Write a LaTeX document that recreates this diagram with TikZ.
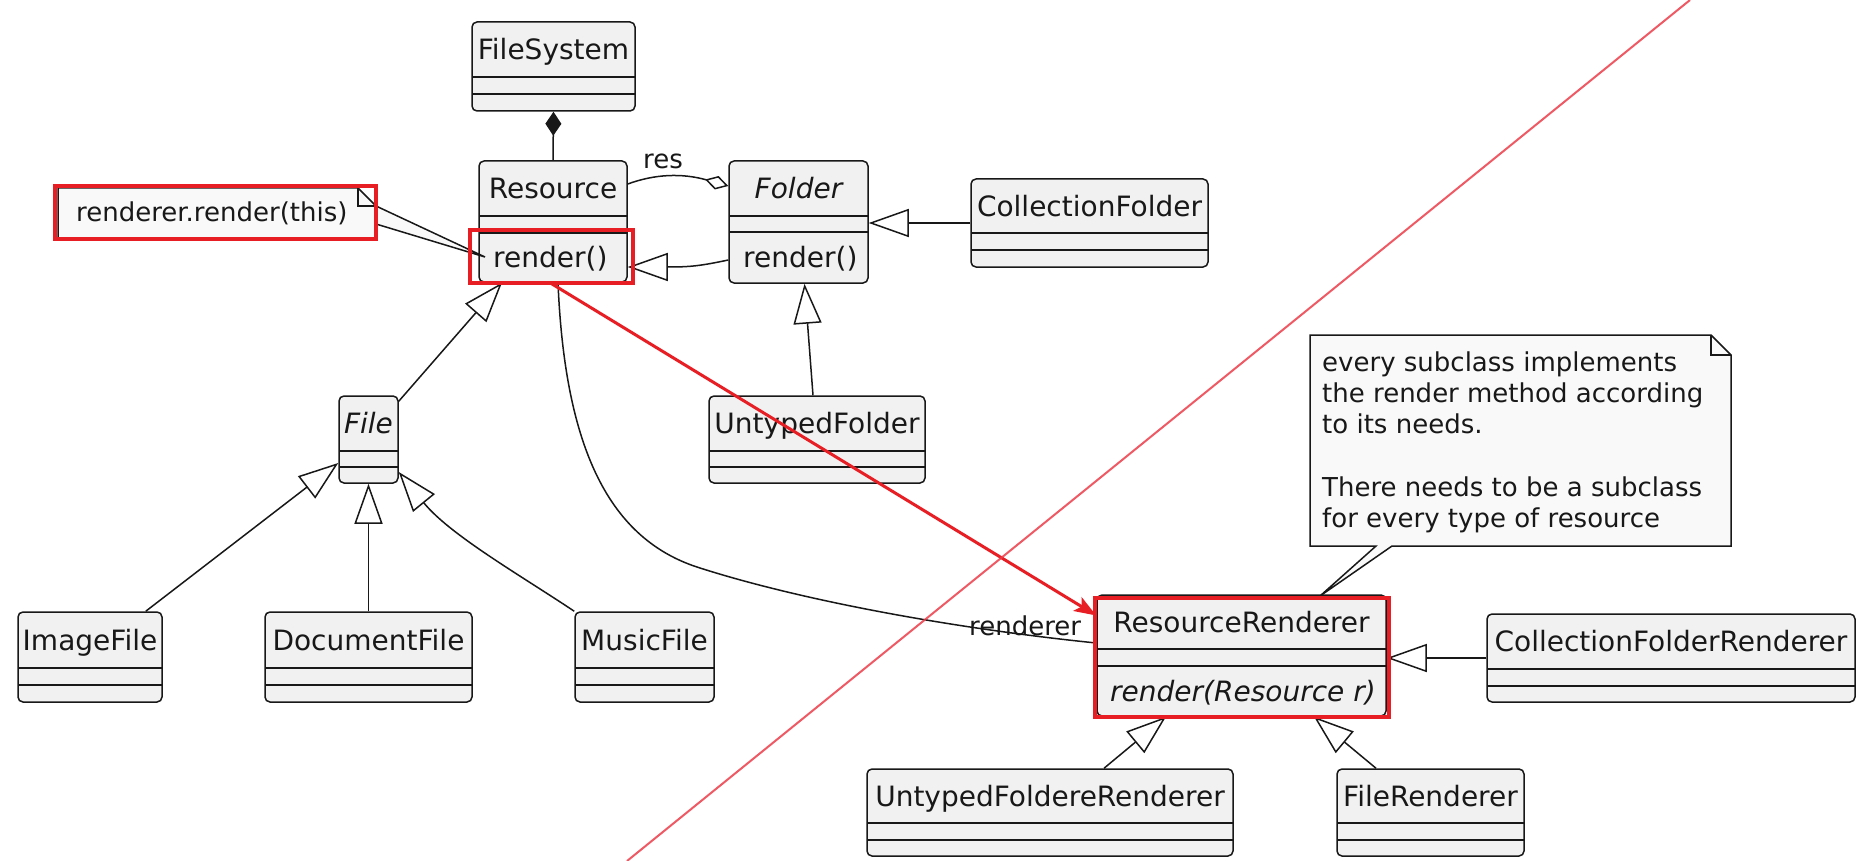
\documentclass[tikz,border=0pt]{standalone}
\usepackage{fontspec}
\setmainfont{DejaVu Sans}
\usetikzlibrary{arrows.meta,fit}
\definecolor{boxfill}{HTML}{F1F1F1}
\definecolor{boxline}{HTML}{181818}
\definecolor{notefill}{HTML}{F9F9F9}
\definecolor{hl}{RGB}{232,30,37}
\definecolor{diag}{RGB}{236,60,72}
\tikzset{
  cls/.style={draw=boxline, fill=boxfill, line width=1.5pt, rounded corners=5pt, inner sep=0pt},
  divline/.style={draw=boxline, line width=1.5pt},
  ttl/.style={anchor=base, font=\fontsize{28}{34}\selectfont, inner sep=0pt, text=boxline},
  mth/.style={anchor=base west, font=\fontsize{28}{34}\selectfont, inner sep=0pt, text=boxline},
  lbl/.style={anchor=base west, font=\fontsize{26}{31}\selectfont, inner sep=0pt, text=boxline},
  conn/.style={draw=boxline, line width=1.5pt},
  gen/.style={conn, -{Triangle[length=40pt, width=28pt, fill=white]}},
  notebox/.style={draw=boxline, fill=notefill, line width=1.5pt, line join=miter},
  hlbox/.style={draw=hl, line width=3.5pt, inner sep=0pt},
  diagline/.style={draw=diag, line width=2pt, opacity=0.85},
}
\newcommand\umlcls[8]{%
  \node[cls, fit={(#2,#3) (#4,#5)}] (#1) {};
  \draw[divline] (#2,#6) -- (#4,#6) (#2,#7) -- (#4,#7);
  \node[ttl] (#1-t) at ({(#2+#4)/2},{(#3+#6)/2+10}) {#8};
}
\begin{document}
\begin{tikzpicture}[x=1pt,y=-1pt]
\fill[white] (0,0) rectangle (1867,861);
\useasboundingbox (0,0) rectangle (1867,861);

% classes
\umlcls{fs}{472}{22}{635}{111}{77}{94}{FileSystem}
\umlcls{res}{479}{161}{627}{282}{216}{233}{Resource}
\node[mth] (res-m) at (493,267) {render()};
\umlcls{fold}{729}{161}{868}{283}{216}{232}{\itshape Folder}
\node[mth] (fold-m) at (743,267) {render()};
\umlcls{cf}{971}{179}{1208}{267}{233}{250}{CollectionFolder}
\umlcls{file}{339}{396}{398}{483}{451}{467}{\itshape File}
\umlcls{uf}{709}{396}{925}{483}{451}{467}{UntypedFolder}
\umlcls{img}{18}{612}{162}{702}{668}{685}{ImageFile}
\umlcls{doc}{265}{612}{472}{702}{668}{685}{DocumentFile}
\umlcls{mus}{575}{612}{714}{702}{668}{685}{MusicFile}
\umlcls{rr}{1097}{595}{1386}{716}{649}{666}{ResourceRenderer}
\node[mth] (rr-m) at (1110,701) {\itshape render(Resource r)};
\umlcls{cfr}{1487}{614}{1855}{702}{669}{686}{CollectionFolderRenderer}
\umlcls{ufr}{867}{769}{1233}{856}{823}{840}{UntypedFoldereRenderer}
\umlcls{fr}{1337}{769}{1524}{856}{823}{840}{FileRenderer}

% notes
\filldraw[notebox] (58,188) -- (358,188) -- (376,206) -- (485,257) -- (376,224) -- (376,238) -- (58,238) -- cycle;
\draw[notebox, fill=none] (358,188) -- (358,206) -- (376,206);
\node[lbl] (n1) at (76,222) {renderer.render(this)};

\filldraw[notebox] (1310,335) -- (1711,335) -- (1731,355) -- (1731,546) -- (1392,546) -- (1320,596) -- (1376,546) -- (1310,546) -- cycle;
\draw[notebox, fill=none] (1711,335) -- (1711,355) -- (1731,355);
\node[lbl] (n2a) at (1322,371) {every subclass implements};
\node[lbl] (n2b) at (1322,402) {the render method according};
\node[lbl] (n2c) at (1322,433) {to its needs.};
\node[lbl] (n2d) at (1322,496) {There needs to be a subclass};
\node[lbl] (n2e) at (1322,527) {for every type of resource};

% connectors
\draw[conn, {Diamond[length=24pt, width=16pt, fill=boxline]}-] (fs.south) -- (res.north);
\draw[conn, -{Diamond[length=24pt, width=14pt, fill=white]}] ([yshift=37.5pt]res.east) .. controls (655,174) and (682,173) .. ([yshift=36pt]fold.west);
\node[lbl] (reslbl) at (643,168) {res};
\draw[gen] ([yshift=-38pt]fold.west) .. controls (700,266) and (690,267) .. ([yshift=-45.5pt]res.east);
\draw[gen] (cf.west) -- (cf.west -| fold.east);
\draw[gen] ([xshift=-4pt]uf.north) -- ([xshift=6pt]fold.south);
\draw[gen] ([yshift=-6pt]file.north east) -- ([xshift=-51pt]res.south);
\draw[gen] ([xshift=-17pt]img.north east) -- ([yshift=-23.5pt]file.west);
\draw[gen] (doc.north) -- (file.south);
\draw[gen] (mus.north west) .. controls (520,575) and (450,535) .. ([yshift=-32.5pt]file.east);
\draw[conn] ([xshift=5pt]res.south) .. controls (565,450) and (610,540) .. (700,568) .. controls (800,600) and (950,628) .. ([yshift=12.5pt]rr.west);
\node[lbl] (rrlbl) at (969,635) {renderer};
\draw[gen] (cfr.west) -- (cfr.west -| rr.east);
\draw[gen] ([xshift=54pt]ufr.north) -- ([xshift=-75.5pt]rr.south);
\draw[gen] ([xshift=-54.5pt]fr.north) -- ([xshift=72.5pt]rr.south);

% highlights
\node[hlbox, fit={(55,186) (376,239)}] (hl1) {};
\node[hlbox, fit={(470,230) (633,283)}] (hl2) {};
\node[hlbox, fit={(1095,598) (1389,717)}] (hl3) {};
\draw[draw=hl, line width=3pt, -{Stealth[length=22pt, width=16pt, inset=5pt]}] ([xshift=-3pt]res.south) -- ([yshift=40pt]rr.west);
\coordinate (dA) at (627,861);
\coordinate (dB) at (1690,0);
\draw[diagline] (dA) -- (dB);
\end{tikzpicture}
\end{document}
